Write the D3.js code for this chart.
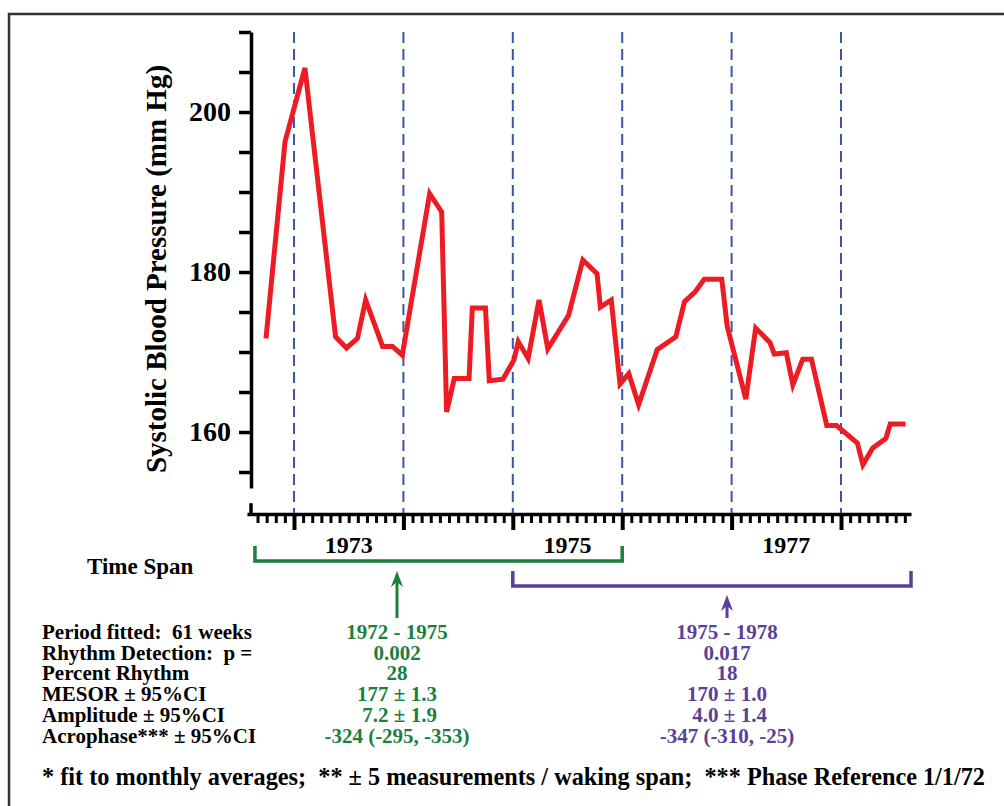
<!DOCTYPE html>
<html>
<head>
<meta charset="utf-8">
<script src="https://cdn.jsdelivr.net/npm/d3@7"></script>
<style>
  body { margin: 0; background: #fff; }
  svg text { font-family: "Liberation Serif", "Times New Roman", serif; font-weight: bold; }
</style>
</head>
<body>
<div id="chart"></div>
<script>
// monthly averages, decimal year
const years = [1972.744, 1972.918, 1973.10, 1973.38, 1973.48, 1973.58, 1973.655, 1973.81, 1973.90, 1973.99,
  1974.24, 1974.35, 1974.395, 1974.465, 1974.60, 1974.63, 1974.75, 1974.785, 1974.91, 1975.01,
  1975.05, 1975.14, 1975.24, 1975.32, 1975.51, 1975.64, 1975.77, 1975.80, 1975.90, 1975.98,
  1976.06, 1976.15, 1976.32, 1976.49, 1976.57, 1976.665, 1976.75, 1976.91, 1976.96, 1977.13,
  1977.22, 1977.35, 1977.39, 1977.50, 1977.56, 1977.65, 1977.73, 1977.87, 1977.96, 1978.15,
  1978.20, 1978.29, 1978.41, 1978.45, 1978.59];
const sbp = [171.7, 196.3, 205.5, 171.9, 170.5, 171.7, 176.5, 170.7, 170.7, 169.6,
  189.8, 187.5, 162.5, 166.7, 166.7, 175.5, 175.5, 166.4, 166.6, 169.0,
  171.3, 169.2, 176.5, 170.4, 174.6, 181.5, 179.8, 175.6, 176.5, 166.0,
  167.3, 163.4, 170.3, 171.9, 176.3, 177.5, 179.1, 179.1, 173.2, 164.1,
  173.0, 171.2, 169.75, 169.9, 165.9, 169.1, 169.1, 160.8, 160.8, 158.6,
  155.9, 158.0, 159.2, 161.0, 161.0];

const yearBounds = [1973, 1974, 1975, 1976, 1977, 1978];
const yearLabels = ["1973", "1975", "1977"];
const yTicks = [155, 160, 165, 170, 175, 180, 185, 190, 195, 200, 205, 210];
const yLabelled = [160, 180, 200];

const spans = [
  { from: 1972.643, to: 1976.0, color: "#1b7f3e" },
  { from: 1975.0, to: 1978.64, color: "#5b3f98" }
];

const rowLabels = ["Period fitted:  61 weeks", "Rhythm Detection:  p =", "Percent Rhythm",
  "MESOR \u00b1 95%CI", "Amplitude \u00b1 95%CI", "Acrophase*** \u00b1 95%CI"];
const greenValues = ["1972 - 1975", "0.002", "28", "177 \u00b1 1.3", "\u00a07.2 \u00b1 1.9", "-324 (-295, -353)"];
const purpleValues = ["1975 - 1978", "0.017", "18", "170 \u00b1 1.0", "\u00a04.0 \u00b1 1.4", "-347 (-310, -25)"];
const footnote = "* fit to monthly averages;  ** \u00b1 5 measurements / waking span;  *** Phase Reference 1/1/72";

const W = 1004, H = 806;
const margin = { top: 32, left: 251 };

const svgRoot = d3.select("#chart").append("svg")
  .attr("width", W).attr("height", H);

svgRoot.append("rect").attr("width", W).attr("height", H).attr("fill", "#fff");
// frame
svgRoot.append("rect")
  .attr("x", 9).attr("y", 14).attr("width", W + 20).attr("height", H + 20)
  .attr("fill", "none").attr("stroke", "#333").attr("stroke-width", 2.5);

const svg = svgRoot.append("g")
  .attr("transform", `translate(${margin.left},${margin.top})`);

const xScale = d3.scaleLinear().domain([1973, 1978]).range([43, 590]);
const yScale = d3.scaleLinear().domain([150, 210]).range([480, 0]);
const yBase = 149.75;

// dashed year lines
svg.selectAll(".yr")
  .data(yearBounds)
  .join("line")
  .attr("x1", d => xScale(d)).attr("x2", d => xScale(d))
  .attr("y1", yScale(210)).attr("y2", yScale(yBase))
  .attr("stroke", "#3b56a8").attr("stroke-width", 2)
  .attr("stroke-dasharray", "11,6");

// y axis (broken near the bottom)
const yAxisScale = yScale.copy().domain([153, 210]).range([yScale(153), yScale(210)]);
const yAxis = svg.append("g")
  .call(d3.axisLeft(yAxisScale)
    .tickValues(yTicks)
    .tickSize(12)
    .tickSizeOuter(0)
    .tickPadding(8)
    .tickFormat(d => yLabelled.includes(d) ? d : ""));
yAxis.select(".domain").attr("stroke-width", 3.5);
yAxis.selectAll(".tick line").attr("stroke-width", 3.5);
yAxis.selectAll("text").attr("font-size", 28).attr("fill", "#000");

svg.append("line")
  .attr("x1", 0).attr("x2", 0)
  .attr("y1", yScale(151.1)).attr("y2", yScale(yBase))
  .attr("stroke", "#000").attr("stroke-width", 3.5);

// x axis
const months = d3.range(8, 80).map(m => 1972 + m / 12);
const xAxisScale = xScale.copy().domain([1972.57, 1978.64]).range([xScale(1972.57), xScale(1978.64)]);
const xAxis = svg.append("g")
  .attr("transform", `translate(0,${yScale(yBase)})`)
  .call(d3.axisBottom(xAxisScale).tickValues(months).tickSize(9).tickSizeOuter(0).tickFormat(""));
xAxis.select(".domain").attr("stroke-width", 3.5);
xAxis.selectAll(".tick line").attr("stroke-width", 3);

const xMajor = svg.append("g")
  .attr("transform", `translate(0,${yScale(yBase)})`)
  .call(d3.axisBottom(xAxisScale).tickValues(yearBounds).tickSize(16).tickSizeOuter(0).tickFormat(""));
xMajor.select(".domain").remove();
xMajor.selectAll(".tick line").attr("stroke-width", 4);

svg.selectAll(".yl")
  .data(yearLabels)
  .join("text")
  .attr("x", d => xScale(+d + 0.5))
  .attr("y", 553 - margin.top)
  .attr("text-anchor", "middle")
  .attr("font-size", 24)
  .text(d => d);

// y title
svgRoot.append("text")
  .attr("transform", "translate(166,269) rotate(-90)")
  .attr("text-anchor", "middle")
  .attr("font-size", 29)
  .text("Systolic Blood Pressure (mm Hg)");

// data line
const line = d3.line()
  .x((d, i) => xScale(years[i]))
  .y(d => yScale(d));

svg.append("path")
  .datum(sbp)
  .attr("fill", "none")
  .attr("stroke", "#ed1c24")
  .attr("stroke-width", 5)
  .attr("stroke-linejoin", "miter")
  .attr("d", line);

// time span brackets
svgRoot.append("text")
  .attr("x", 87).attr("y", 574)
  .attr("font-size", 23)
  .text("Time Span");

const bracketTop = [546, 571];
spans.forEach((s, i) => {
  const x0 = xScale(s.from) + margin.left, x1 = xScale(s.to) + margin.left;
  const y0 = bracketTop[i], y1 = bracketTop[i] + 15;
  svgRoot.append("path")
    .attr("d", `M${x0},${y0}V${y1}H${x1}V${y0}`)
    .attr("fill", "none").attr("stroke", s.color).attr("stroke-width", 3.5);
});

// arrows and table
const colX = [397, 727];
const arrowTop = [571, 595];
[greenValues, purpleValues].forEach((vals, i) => {
  const c = spans[i].color;
  svgRoot.append("line")
    .attr("x1", colX[i]).attr("x2", colX[i])
    .attr("y1", arrowTop[i] + 8).attr("y2", 618)
    .attr("stroke", c).attr("stroke-width", 3);
  svgRoot.append("path")
    .attr("d", `M${colX[i]},${arrowTop[i]}L${colX[i] - 6},${arrowTop[i] + 16}L${colX[i]},${arrowTop[i] + 11}L${colX[i] + 6},${arrowTop[i] + 16}Z`)
    .attr("fill", c);
  svgRoot.selectAll(null)
    .data(vals)
    .join("text")
    .attr("x", colX[i])
    .attr("y", (d, j) => 639 + j * 20.7)
    .attr("text-anchor", "middle")
    .attr("font-size", 21)
    .attr("fill", c)
    .text(d => d);
});

svgRoot.selectAll(".rl")
  .data(rowLabels)
  .join("text")
  .attr("x", 42)
  .attr("y", (d, j) => 639 + j * 20.7)
  .attr("font-size", 21)
  .attr("fill", "#000")
  .style("white-space", "pre")
  .text(d => d);

svgRoot.append("text")
  .attr("x", 42).attr("y", 785)
  .attr("font-size", 25)
  .attr("textLength", 943)
  .attr("lengthAdjust", "spacingAndGlyphs")
  .style("white-space", "pre")
  .text(footnote);
</script>
</body>
</html>
